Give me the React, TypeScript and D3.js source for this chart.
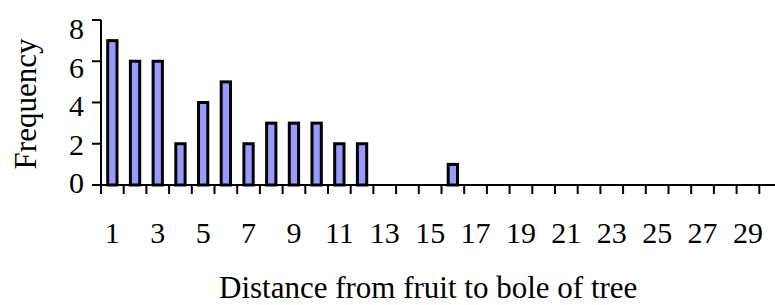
import { useEffect, useRef } from "react";
import * as d3 from "d3";

// distance classes 1..30 and how many fruits fell in each
const distances = d3.range(1, 31);
const frequency = [7, 6, 6, 2, 4, 5, 2, 3, 3, 3, 2, 2, 0, 0, 0, 1, 0, 0, 0, 0, 0, 0, 0, 0, 0, 0, 0, 0, 0, 0];
const yTicks = [0, 2, 4, 6, 8];
const xTickLabels = d3.range(1, 30, 2);

const width = 775;
const height = 305;
const font = "'Liberation Serif', 'Times New Roman', Times, serif";

export default function App() {
  const svgRef = useRef<SVGSVGElement>(null);

  useEffect(() => {
    if (!svgRef.current) return;
    const svg = d3.select(svgRef.current);
    svg.selectAll("*").remove();

    const left = 101;
    const step = 22.7;
    const x = d3.scaleBand<number>()
      .domain(distances)
      .range([left, left + step * distances.length])
      .padding(0);
    const y = d3.scaleLinear().domain([0, 8]).range([185, 20]);
    // tick labels sit a bit tighter than the ticks themselves
    const yLabel = d3.scaleLinear().domain([0, 8]).range([183, 29]);

    // bars
    const barW = x.bandwidth() * 0.41;
    svg.append("g")
      .selectAll("rect")
      .data(distances.filter((_, i) => frequency[i] > 0))
      .join("rect")
      .attr("x", d => x(d)! + (x.bandwidth() - barW) / 2)
      .attr("y", d => y(frequency[d - 1]))
      .attr("width", barW)
      .attr("height", d => y(0) - y(frequency[d - 1]))
      .attr("fill", "#9999FF")
      .attr("stroke", "#000")
      .attr("stroke-width", 3);

    // y axis
    const yAxis = svg.append("g").attr("stroke", "#000").attr("stroke-width", 2);
    yAxis.append("line")
      .attr("x1", left).attr("x2", left)
      .attr("y1", y(8)).attr("y2", y(0));
    yAxis.selectAll("line.tick")
      .data(yTicks)
      .join("line")
      .attr("class", "tick")
      .attr("x1", left - 9).attr("x2", left)
      .attr("y1", d => y(d)).attr("y2", d => y(d));
    svg.append("g")
      .selectAll("text")
      .data(yTicks)
      .join("text")
      .attr("x", 84)
      .attr("y", d => yLabel(d))
      .attr("dy", "0.34em")
      .attr("text-anchor", "end")
      .attr("font-family", font)
      .attr("font-size", 30)
      .text(d => d);

    // x axis
    const xAxis = svg.append("g").attr("stroke", "#000").attr("stroke-width", 2);
    xAxis.append("line")
      .attr("x1", left - 9).attr("x2", left + step * distances.length)
      .attr("y1", y(0)).attr("y2", y(0));
    xAxis.selectAll("line.tick")
      .data(distances)
      .join("line")
      .attr("class", "tick")
      .attr("x1", d => x(d)!).attr("x2", d => x(d)!)
      .attr("y1", y(0)).attr("y2", y(0) + 9);
    svg.append("g")
      .selectAll("text")
      .data(xTickLabels)
      .join("text")
      .attr("x", d => x(d)! + x.bandwidth() / 2)
      .attr("y", 243)
      .attr("text-anchor", "middle")
      .attr("font-family", font)
      .attr("font-size", 30)
      .text(d => d);

    // axis titles
    svg.append("text")
      .attr("x", 219)
      .attr("y", 298)
      .attr("text-anchor", "start")
      .attr("font-family", font)
      .attr("font-size", 31)
      .text("Distance from fruit to bole of tree");
    svg.append("text")
      .attr("transform", "translate(36,104) rotate(-90)")
      .attr("text-anchor", "middle")
      .attr("font-family", font)
      .attr("font-size", 31)
      .text("Frequency");
  }, []);

  return (
    <svg
      ref={svgRef}
      width={width}
      height={height}
      style={{ position: "absolute", left: 0, top: 0, background: "#fff" }}
    />
  );
}
